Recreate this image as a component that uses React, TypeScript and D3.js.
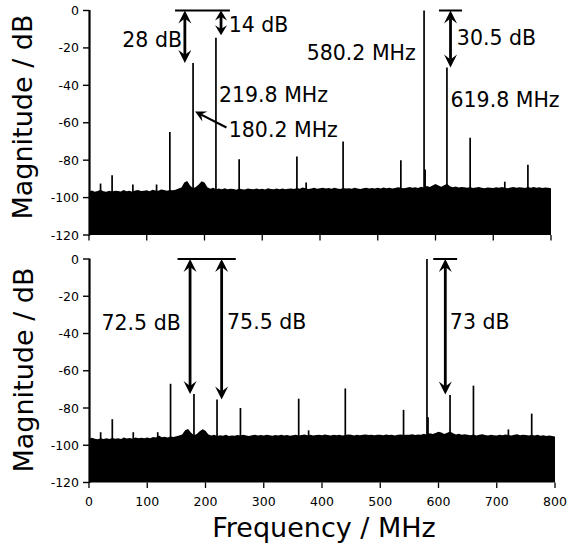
import React from "react";
import * as d3 from "d3";

// ---- data ----
const xTickValues = [0, 100, 200, 300, 400, 500, 600, 700, 800];
const yTickValues = [0, -20, -40, -60, -80, -100, -120];

// noise floor, one value every 5 MHz from 0 to 800
const floorFreqs = d3.range(0, 801, 5);
const floorTop = [
  -96.8, -96.2, -96.9, -96.5, -95.8, -96.6, -96.9, -96.4, -96.7, -96.3,
  -96.5, -96.8, -96.0, -96.6, -96.4, -96.9, -96.2, -95.9, -96.5, -96.3,
  -96.1, -96.6, -95.8, -96.2, -96.4, -95.7, -96.0, -96.3, -95.9, -96.1,
  -95.8, -95.2, -94.6, -92.0, -91.2, -93.5, -95.0, -94.4, -93.0, -91.3,
  -92.0, -94.5, -95.3, -94.8, -95.6, -95.2, -95.5, -95.0, -95.6, -95.3,
  -95.4, -95.8, -95.2, -95.5, -95.7, -95.1, -95.4, -95.6, -95.2, -95.5,
  -95.3, -95.7, -95.0, -95.4, -95.6, -95.1, -95.5, -95.2, -95.6, -95.3,
  -95.1, -95.4, -94.9, -95.3, -94.6, -95.0, -95.4, -95.2, -94.8, -95.3,
  -95.0, -94.7, -95.2, -94.9, -95.3, -94.8, -95.1, -95.4, -94.9, -95.2,
  -95.0, -95.3, -94.8, -95.1, -95.4, -95.0, -94.7, -95.2, -94.9, -95.1,
  -94.8, -95.1, -94.6, -95.0, -94.7, -95.2, -94.9, -94.5, -94.8, -95.0,
  -94.7, -94.3, -94.8, -94.5, -94.9, -94.2, -94.6, -93.8, -94.4, -93.5,
  -92.8, -93.6, -94.2, -93.4, -92.6, -93.9, -94.5, -94.1, -94.6, -94.3,
  -94.5, -94.8, -94.4, -94.9, -94.6, -94.3, -94.7, -95.0, -94.6, -94.8,
  -94.9, -94.5, -94.8, -94.4, -94.7, -95.0, -94.6, -94.3, -94.8, -94.5,
  -94.6, -94.9, -94.4, -94.7, -94.3, -94.8, -94.5, -94.9, -94.6, -94.8,
  -95.0,
];
const floorBottom = [
  -96.6, -96.0, -96.5, -96.8, -96.2, -96.6, -96.3, -96.7, -96.1, -96.5,
  -96.3, -96.6, -95.9, -96.4, -96.1, -96.5, -95.8, -96.2, -96.0, -96.3,
  -95.9, -96.2, -95.6, -95.9, -94.8, -95.7, -95.4, -95.8, -95.3, -95.6,
  -95.2, -94.8, -94.2, -92.0, -91.3, -93.2, -94.6, -94.0, -92.5, -91.4,
  -92.2, -94.2, -94.8, -94.3, -95.0, -94.6, -94.9, -94.4, -95.0, -94.7,
  -94.9, -94.5, -94.8, -94.3, -94.7, -95.0, -94.6, -94.4, -94.8, -94.5,
  -94.7, -94.3, -94.6, -94.9, -94.5, -94.8, -94.4, -94.7, -94.5, -94.9,
  -94.6, -94.3, -94.7, -94.5, -94.2, -94.6, -94.4, -94.8, -94.5, -94.3,
  -94.6, -94.2, -94.5, -94.7, -94.4, -94.6, -94.3, -94.7, -94.5, -94.2,
  -94.4, -94.7, -94.3, -94.6, -94.4, -94.2, -94.5, -94.3, -94.6, -94.4,
  -94.3, -94.6, -94.2, -94.5, -94.3, -94.7, -94.4, -94.2, -94.5, -94.3,
  -94.4, -94.1, -94.5, -94.2, -94.4, -93.8, -94.3, -93.6, -94.0, -93.4,
  -92.8, -93.1, -93.9, -93.3, -92.6, -93.5, -94.2, -93.8, -94.4, -94.1,
  -94.3, -94.6, -94.2, -94.7, -94.4, -94.1, -94.5, -94.8, -94.4, -94.6,
  -94.7, -94.3, -94.6, -94.2, -94.5, -94.8, -94.4, -94.1, -94.6, -94.3,
  -94.5, -94.8, -94.3, -94.7, -94.4, -94.9, -94.6, -95.0, -94.7, -95.1,
  -95.3,
];

// discrete spurs: frequency (MHz) and peak level (dB)
const spurFreqsTop = [20, 40, 76, 117, 140, 180.2, 219.8, 260, 360, 376, 440, 540, 580.2, 582, 619.8, 660, 720, 760];
const spurLevelsTop = [-92.5, -88, -93, -93, -65, -28, -14.5, -79.5, -78, -92, -70, -80, 0, -85, -30.5, -68, -91.5, -82.5];
const spurFreqsBottom = [20, 40, 76, 118, 140, 180.2, 219.8, 260, 360, 377, 440, 540, 580.2, 582, 619.8, 660, 720, 760];
const spurLevelsBottom = [-93, -86, -93, -93, -67, -72.5, -75.5, -80, -75, -92, -69.5, -81, 0, -85, -73, -68, -91.5, -83];

// annotations
const topArrows = [
  { f: 166, to: -28, small: false },
  { f: 228.6, to: -13.2, small: true },
  { f: 626, to: -30.5, small: false },
];
const topRefLines = [[149, 244], [606, 646]];
const topLabels = [
  { text: "28 dB", f: 161, db: -19.3, anchor: "end" },
  { text: "14 dB", f: 242, db: -11.3, anchor: "start" },
  { text: "580.2 MHz", f: 377, db: -26.5, anchor: "start" },
  { text: "30.5 dB", f: 637, db: -18.4, anchor: "start" },
  { text: "219.8 MHz", f: 225, db: -48.7, anchor: "start" },
  { text: "180.2 MHz", f: 242, db: -67.4, anchor: "start" },
  { text: "619.8 MHz", f: 626, db: -51.4, anchor: "start" },
];
const bottomArrows = [
  { f: 173.5, to: -72.5, small: false },
  { f: 227.7, to: -75.5, small: false },
  { f: 611.7, to: -72.8, small: false },
];
const bottomRefLines = [[152, 252], [591, 632]];
const bottomLabels = [
  { text: "72.5 dB", f: 21.5, db: -38.1, anchor: "start" },
  { text: "75.5 dB", f: 237, db: -37.4, anchor: "start" },
  { text: "73 dB", f: 619.5, db: -37.7, anchor: "start" },
];

const FONT = "'DejaVu Sans', Verdana, sans-serif";

type Scale = d3.ScaleLinear<number, number>;

function head(x: number, y: number, dir: number, len: number, half: number) {
  // notched arrow head, tip at (x,y), dir=-1 points up, +1 points down
  const b = y - dir * len;
  const n = y - dir * len * 0.62;
  return `M${x},${y}L${x - half},${b}L${x},${n}L${x + half},${b}Z`;
}

function Panel(props: {
  x: Scale;
  y: Scale;
  floor: number[];
  spurF: number[];
  spurL: number[];
  arrows: { f: number; to: number; small: boolean }[];
  refLines: number[][];
  labels: { text: string; f: number; db: number; anchor: string }[];
  showXLabels: boolean;
}) {
  const { x, y, floor, spurF, spurL } = props;
  const pts = floorFreqs.map((f, i) => [f, floor[i]] as [number, number]);
  const area = d3
    .area<[number, number]>()
    .x((d) => x(d[0]))
    .y0(y(-120))
    .y1((d) => y(d[1]));
  const x0 = x(0);
  return (
    <g>
      <path d={area(pts) || ""} fill="#000" />
      {spurF.map((f, i) => (
        <line key={i} x1={x(f)} x2={x(f)} y1={y(-110)} y2={y(spurL[i])} stroke="#000" strokeWidth={1.7} />
      ))}
      {/* y axis */}
      <line x1={x0 + 0.5} x2={x0 + 0.5} y1={y(0) - 0.5} y2={y(-120) + 0.5} stroke="#000" strokeWidth={2.2} />
      {yTickValues.map((t) => (
        <g key={t}>
          <line x1={x0 - 6} x2={x0} y1={y(t)} y2={y(t)} stroke="#000" strokeWidth={1.4} />
          <text x={x0 - 10} y={y(t) + 4.5} textAnchor="end" fontSize={12.5} fontFamily={FONT} fill="#000">
            {t}
          </text>
        </g>
      ))}
      {xTickValues.map((t) => (
        <g key={t}>
          <line x1={x(t)} x2={x(t)} y1={y(-120)} y2={y(-120) + 5.5} stroke="#000" strokeWidth={1.3} />
          {props.showXLabels && (
            <text x={x(t)} y={y(-120) + 23.5} textAnchor="middle" fontSize={12.5} fontFamily={FONT} fill="#000">
              {t}
            </text>
          )}
        </g>
      ))}
      {props.refLines.map((r, i) => (
        <line key={i} x1={x(r[0])} x2={x(r[1])} y1={y(0)} y2={y(0)} stroke="#000" strokeWidth={2} />
      ))}
      {props.arrows.map((a, i) => {
        const ax = x(a.f);
        const top = y(0);
        const bot = y(a.to);
        const len = a.small ? 10 : 13;
        const half = a.small ? 6 : 6.5;
        return (
          <g key={i}>
            <line x1={ax} x2={ax} y1={top + len * 0.6} y2={bot - len * 0.6} stroke="#000" strokeWidth={2.8} />
            <path d={head(ax, top, -1, len, half)} fill="#000" />
            <path d={head(ax, bot, 1, len, half)} fill="#000" />
          </g>
        );
      })}
      {props.labels.map((l, i) => (
        <text key={i} x={x(l.f)} y={y(l.db)} textAnchor={l.anchor as any} fontSize={20.5} fontFamily={FONT} fill="#000">
          {l.text}
        </text>
      ))}
    </g>
  );
}

export default function App() {
  const W = 567;
  const H = 546;
  const xTop = d3.scaleLinear().domain([0, 800]).range([89, 551]);
  const yTop = d3.scaleLinear().domain([-120, 0]).range([235, 10.5]);
  const xBot = d3.scaleLinear().domain([0, 800]).range([89, 555]);
  const yBot = d3.scaleLinear().domain([-120, 0]).range([482.5, 259]);

  // pointer from "180.2 MHz" label to its spur
  const tipX = xTop(180.2) + 2;
  const tipY = yTop(-54);
  const tailX = xTop(238);
  const tailY = yTop(-62.5);
  const ang = Math.atan2(tipY - tailY, tipX - tailX);
  const hl = 11;
  const hw = 5.5;
  const bx = tipX - hl * Math.cos(ang);
  const by = tipY - hl * Math.sin(ang);
  const nx = tipX - hl * 0.62 * Math.cos(ang);
  const ny = tipY - hl * 0.62 * Math.sin(ang);
  const px = -Math.sin(ang);
  const py = Math.cos(ang);

  return (
    <svg width={W} height={H} style={{ position: "absolute", left: 0, top: 0, background: "#fff" }}>
      <rect width={W} height={H} fill="#fff" />
      <Panel
        x={xTop}
        y={yTop}
        floor={floorTop}
        spurF={spurFreqsTop}
        spurL={spurLevelsTop}
        arrows={topArrows}
        refLines={topRefLines}
        labels={topLabels}
        showXLabels={false}
      />
      <Panel
        x={xBot}
        y={yBot}
        floor={floorBottom}
        spurF={spurFreqsBottom}
        spurL={spurLevelsBottom}
        arrows={bottomArrows}
        refLines={bottomRefLines}
        labels={bottomLabels}
        showXLabels={true}
      />
      <line x1={tailX} y1={tailY} x2={nx} y2={ny} stroke="#000" strokeWidth={2.2} />
      <path
        d={`M${tipX},${tipY}L${bx + px * hw},${by + py * hw}L${nx},${ny}L${bx - px * hw},${by - py * hw}Z`}
        fill="#000"
      />
      <text transform="translate(32,117) rotate(-90)" textAnchor="middle" fontSize={27} fontFamily={FONT} fill="#000">
        Magnitude / dB
      </text>
      <text transform="translate(32.5,370) rotate(-90)" textAnchor="middle" fontSize={27} fontFamily={FONT} fill="#000">
        Magnitude / dB
      </text>
      <text x={324} y={537} textAnchor="middle" fontSize={27} fontFamily={FONT} fill="#000">
        Frequency / MHz
      </text>
    </svg>
  );
}
